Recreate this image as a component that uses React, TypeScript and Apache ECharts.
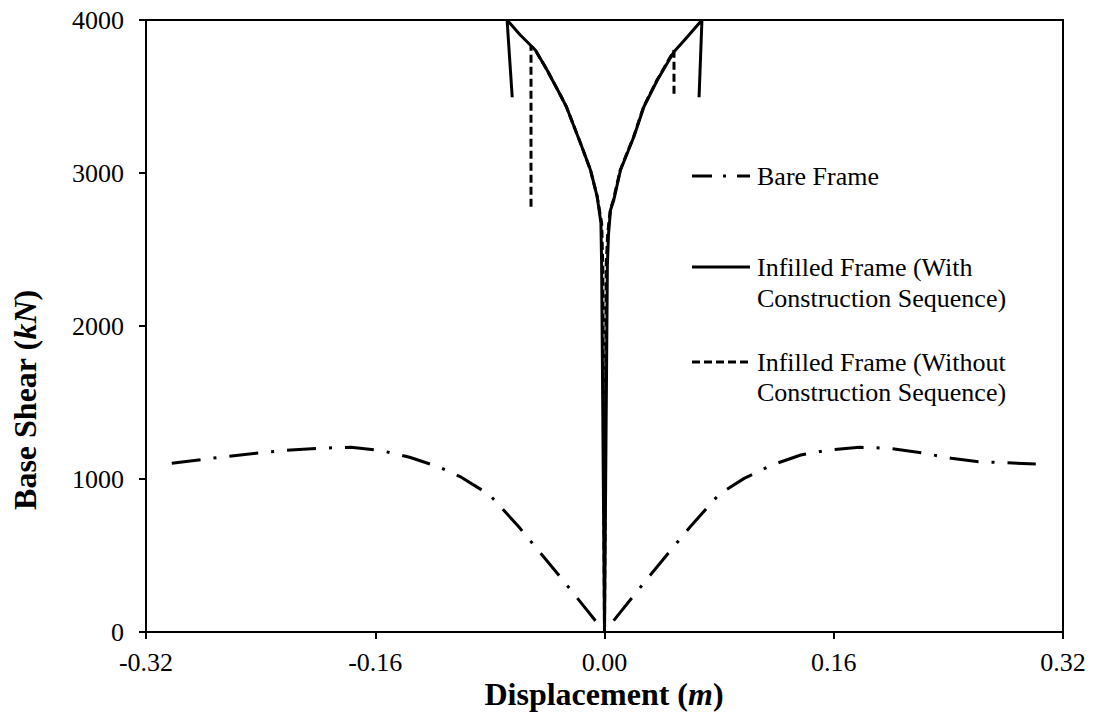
import React, { useEffect, useRef } from "react";
import * as echarts from "echarts";

// Displacement (m), Base Shear (kN)
const bareFrame: [number, number][] = [
  [-0.302, 1103], [-0.271, 1139], [-0.240, 1172], [-0.219, 1190], [-0.198, 1201],
  [-0.177, 1208], [-0.156, 1186], [-0.136, 1142], [-0.116, 1080], [-0.100, 1012],
  [-0.080, 895], [-0.060, 690], [-0.030, 350], [0, 0], [0.030, 350], [0.060, 690],
  [0.080, 900], [0.0975, 1004], [0.117, 1092], [0.137, 1157], [0.157, 1190],
  [0.178, 1207], [0.199, 1201], [0.221, 1172], [0.242, 1135], [0.261, 1113], [0.301, 1098],
];

const infilledWithCS: [number, number][] = [
  [-0.0644, 3495], [-0.068, 4000], [-0.0588, 3902], [-0.0483, 3804], [-0.0401, 3673],
  [-0.0308, 3510], [-0.0266, 3433], [-0.0168, 3196], [-0.0098, 3020], [-0.0051, 2845],
  [-0.0025, 2673], [-0.0020, 2400], [0, 0], [0.0020, 2400], [0.0028, 2600],
  [0.0042, 2758], [0.0065, 2824], [0.0112, 3020], [0.0205, 3237], [0.0275, 3433],
  [0.0369, 3608], [0.0485, 3793], [0.0579, 3891], [0.068, 4000], [0.066, 3495],
];

const infilledWithoutCS: [number, number][] = [
  [-0.0513, 2780], [-0.0513, 3830], [-0.0483, 3804], [-0.0401, 3673],
  [-0.0308, 3510], [-0.0266, 3433], [-0.0168, 3196], [-0.0098, 3020], [-0.0051, 2845],
  [-0.0020, 2673], [-0.0012, 2400], [0, 0], [0.0012, 2400], [0.0022, 2600],
  [0.0040, 2758], [0.0062, 2824], [0.0110, 3020], [0.0203, 3237], [0.0273, 3433],
  [0.0367, 3608], [0.0485, 3800], [0.0485, 3510],
];

const seriesNames = [
  "Bare Frame",
  "Infilled Frame (With\nConstruction Sequence)",
  "Infilled Frame (Without\nConstruction Sequence)",
];

const FONT = "'Liberation Serif', 'Times New Roman', serif";

export default function App() {
  const ref = useRef<HTMLDivElement>(null);
  useEffect(() => {
    if (!ref.current) return;
    const chart = echarts.init(ref.current, undefined, { renderer: "svg" });
    const legendX1 = 692;
    const legendX2 = 750;
    const textX = 757;
    const titleRich = {
      b: { fontFamily: FONT, fontSize: 32, fontWeight: "bold", fill: "#000" },
      i: { fontFamily: FONT, fontSize: 32, fontWeight: "bold", fontStyle: "italic", fill: "#000" },
    };
    chart.setOption({
      animation: false,
      backgroundColor: "#fff",
      grid: {
        left: 146,
        right: 32,
        top: 20,
        bottom: 90,
        show: true,
        borderColor: "#000",
        borderWidth: 2,
      },
      xAxis: {
        type: "value",
        min: -0.32,
        max: 0.32,
        interval: 0.16,
        splitLine: { show: false },
        axisLine: { onZero: false, lineStyle: { color: "#000", width: 2 } },
        axisTick: { show: true, length: 7, inside: false, lineStyle: { color: "#000", width: 2 } },
        axisLabel: {
          color: "#000",
          fontFamily: FONT,
          fontSize: 26,
          margin: 17,
          formatter: (v: number) => v.toFixed(2),
        },
      },
      yAxis: {
        type: "value",
        min: 0,
        max: 4000,
        interval: 1000,
        splitLine: { show: false },
        axisLine: { show: true, onZero: false, lineStyle: { color: "#000", width: 2 } },
        axisTick: { show: true, length: 7, inside: false, lineStyle: { color: "#000", width: 2 } },
        axisLabel: {
          color: "#000",
          fontFamily: FONT,
          fontSize: 26,
          margin: 22,
          formatter: (v: number) => String(v),
        },
      },
      series: [
        {
          name: seriesNames[2],
          type: "line",
          data: infilledWithoutCS,
          showSymbol: false,
          symbol: "none",
          z: 2,
          lineStyle: { color: "#000", width: 3, type: [8, 4] },
        },
        {
          name: seriesNames[1],
          type: "line",
          data: infilledWithCS,
          showSymbol: false,
          symbol: "none",
          z: 3,
          lineStyle: { color: "#000", width: 3, type: "solid" },
        },
        {
          name: seriesNames[0],
          type: "line",
          data: bareFrame,
          showSymbol: false,
          symbol: "none",
          z: 4,
          lineStyle: { color: "#000", width: 3, type: [29, 13, 3, 13] },
        },
      ],
      graphic: [
        {
          type: "line",
          shape: { x1: legendX1, y1: 176, x2: legendX2, y2: 176 },
          style: { stroke: "#000", lineWidth: 3, lineDash: [20, 11, 3, 11] },
        },
        {
          type: "text",
          x: textX,
          y: 176,
          style: { text: seriesNames[0], font: `26px ${FONT}`, fill: "#000", verticalAlign: "middle" },
        },
        {
          type: "line",
          shape: { x1: legendX1, y1: 267, x2: legendX2, y2: 267 },
          style: { stroke: "#000", lineWidth: 3 },
        },
        {
          type: "text",
          x: textX,
          y: 252,
          style: { text: seriesNames[1], font: `26px ${FONT}`, fill: "#000", lineHeight: 31, verticalAlign: "top" },
        },
        {
          type: "line",
          shape: { x1: legendX1, y1: 362, x2: legendX2, y2: 362 },
          style: { stroke: "#000", lineWidth: 3, lineDash: [8, 4] },
        },
        {
          type: "text",
          x: textX,
          y: 347,
          style: { text: seriesNames[2], font: `26px ${FONT}`, fill: "#000", lineHeight: 30, verticalAlign: "top" },
        },
        {
          type: "text",
          x: 604,
          y: 694,
          style: {
            text: "{b|Displacement (}{i|m}{b|)}",
            align: "center",
            verticalAlign: "middle",
            rich: titleRich,
          },
        },
        {
          type: "text",
          x: 25,
          y: 400,
          rotation: Math.PI / 2,
          style: {
            text: "{b|Base Shear (}{i|kN}{b|)}",
            align: "center",
            verticalAlign: "middle",
            rich: titleRich,
          },
        },
      ],
    });
    return () => chart.dispose();
  }, []);
  return (
    <div
      ref={ref}
      style={{ position: "absolute", left: 0, top: 0, width: 1095, height: 722, background: "#fff" }}
    />
  );
}
